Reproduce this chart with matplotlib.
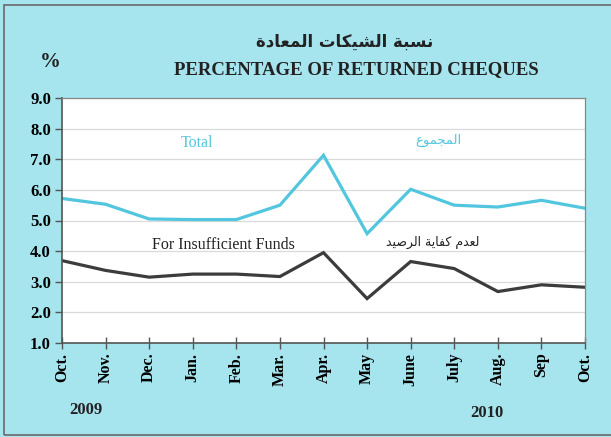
import matplotlib
matplotlib.use("Agg")
import matplotlib.pyplot as plt
from matplotlib.patches import Rectangle

# months Oct 2009 .. Oct 2010
months = ["Oct.", "Nov.", "Dec.", "Jan.", "Feb.", "Mar.", "Apr.", "May",
          "June", "July", "Aug.", "Sep", "Oct."]
total = [5.72, 5.53, 5.05, 5.03, 5.03, 5.5, 7.13, 4.57, 6.02, 5.5, 5.44, 5.66, 5.4]
insufficient = [3.69, 3.37, 3.15, 3.25, 3.25, 3.17, 3.95, 2.45, 3.66, 3.43, 2.68, 2.9, 2.82]
yticks = [1.0, 2.0, 3.0, 4.0, 5.0, 6.0, 7.0, 8.0, 9.0]


def ar(*codes):
    # arabic written with presentation forms, already in visual (right-to-left) order
    return "".join(chr(c) for c in reversed(codes))


# نسبة الشيكات المعادة
title_ar = ar(0xFEE7, 0xFEB4, 0xFE92, 0xFE94, 0x20,
              0xFE8D, 0xFEDF, 0xFEB8, 0xFEF4, 0xFEDC, 0xFE8E, 0xFE95, 0x20,
              0xFE8D, 0xFEDF, 0xFEE4, 0xFECC, 0xFE8E, 0xFEA9, 0xFE93)
# المجموع
total_ar = ar(0xFE8D, 0xFEDF, 0xFEE4, 0xFEA0, 0xFEE4, 0xFEEE, 0xFEC9)
# لعدم كفاية الرصيد
insuf_ar = ar(0xFEDF, 0xFECC, 0xFEAA, 0xFEE1, 0x20,
              0xFEDB, 0xFED4, 0xFE8E, 0xFEF3, 0xFE94, 0x20,
              0xFE8D, 0xFEDF, 0xFEAE, 0xFEBB, 0xFEF4, 0xFEAA)

bg = "#a6e4ee"
cyan = "#52c6de"
dark = "#3c3c3c"
serif = "Liberation Serif"

fig = plt.figure(figsize=(6.11, 4.37), dpi=100)
fig.patch.set_facecolor(bg)
fig.patches.append(Rectangle((4 / 611, 2 / 437), 1.2, 430 / 437, transform=fig.transFigure,
                             fill=False, edgecolor="#6a6a6a", linewidth=1.2))

ax = fig.add_axes([62 / 611, 94 / 437, 523 / 611, 245 / 437])
ax.set_facecolor("white")
x = list(range(len(months)))
ax.plot(x, total, color=cyan, linewidth=2.3, solid_joinstyle="miter")
ax.plot(x, insufficient, color=dark, linewidth=2.3, solid_joinstyle="miter")

ax.set_xlim(0, len(months) - 1)
ax.set_ylim(1.0, 9.0)
ax.set_yticks(yticks)
ax.set_yticklabels(["%.1f" % v for v in yticks], fontfamily=serif, fontweight="bold", fontsize=12)
ax.set_xticks(x)
ax.set_xticklabels(months, rotation=90, fontfamily=serif, fontweight="bold", fontsize=11.5)
ax.yaxis.grid(True, color="#dadada", linewidth=0.9)
ax.set_axisbelow(True)
ax.tick_params(axis="x", direction="inout", length=8, width=1, color="#555555", pad=3)
ax.tick_params(axis="y", direction="out", length=5, width=1, color="#555555", pad=3)
for side in ["left", "bottom"]:
    ax.spines[side].set_color("#555555")
    ax.spines[side].set_linewidth(1.2)
for side in ["top", "right"]:
    ax.spines[side].set_color("#888888")
    ax.spines[side].set_linewidth(0.9)

# series labels inside the plot
ax.text(3.1, 7.52, "Total", color=cyan, fontfamily=serif, fontsize=11.5, ha="center", va="center")
ax.text(8.63, 7.62, total_ar, color=cyan, fontfamily="DejaVu Sans", fontsize=9.5, ha="center", va="center")
ax.text(3.7, 4.2, "For Insufficient Funds", color="#222222", fontfamily=serif, fontsize=11.5,
        ha="center", va="center")
ax.text(8.5, 4.27, insuf_ar, color="#222222", fontfamily="DejaVu Sans", fontsize=9,
        ha="center", va="center")

# titles
fig.text(345 / 611, 1 - 42 / 437, title_ar, fontfamily="DejaVu Sans", fontweight="bold", fontsize=12,
         ha="center", va="center", color="#222222")
fig.text(356 / 611, 1 - 70 / 437, "PERCENTAGE OF RETURNED CHEQUES", fontfamily=serif,
         fontweight="bold", fontsize=13.5, ha="center", va="center", color="#222222")
fig.text(50 / 611, 1 - 62 / 437, "%", fontfamily=serif, fontweight="bold", fontsize=15,
         ha="center", va="center", color="#222222")
fig.text(86 / 611, 1 - 410 / 437, "2009", fontfamily=serif, fontweight="bold", fontsize=12,
         ha="center", va="center", color="#222222")
fig.text(487 / 611, 1 - 413 / 437, "2010", fontfamily=serif, fontweight="bold", fontsize=12,
         ha="center", va="center", color="#222222")

fig.savefig("out.png", dpi=100, facecolor=bg)
